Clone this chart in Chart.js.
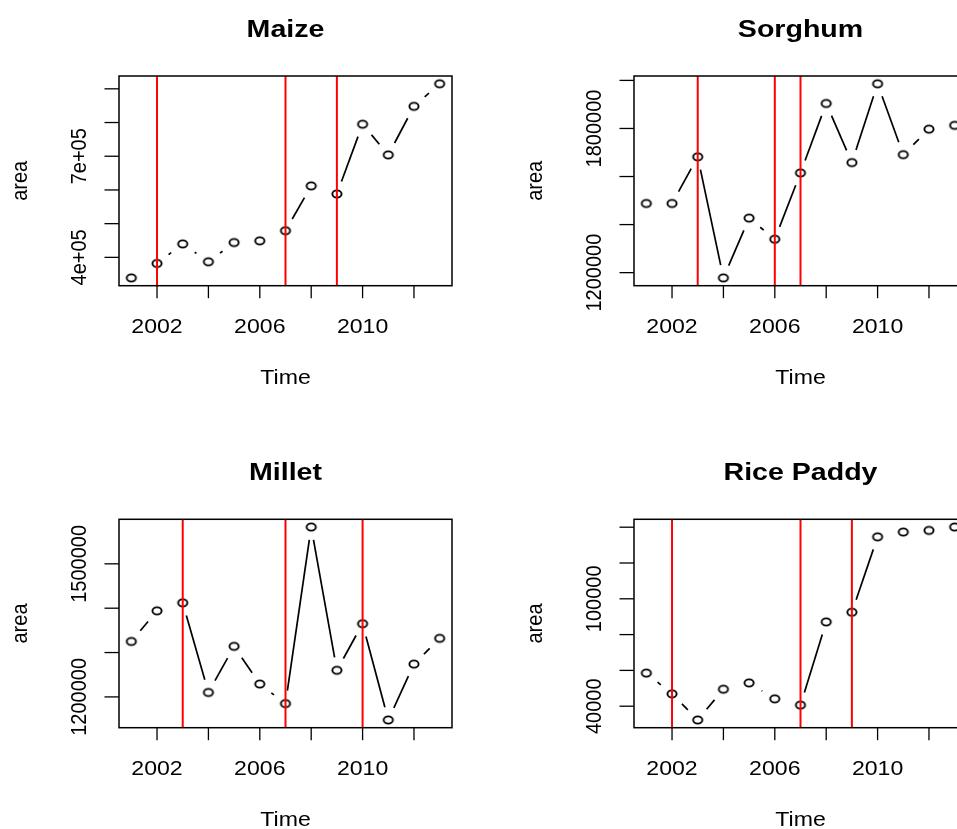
<!DOCTYPE html>
<html>
<head>
<meta charset="utf-8">
<script src="https://cdn.jsdelivr.net/npm/chart.js@4/dist/chart.umd.min.js"></script>
<style>
  body { margin: 0; background: #fff; overflow: hidden; }
  #page { position: relative; width: 957px; height: 829px; overflow: hidden; background: #fff; }
  canvas { position: absolute; }
</style>
</head>
<body>
<div id="page">
  <canvas id="maize" width="480" height="415" style="left:0;top:0"></canvas>
  <canvas id="sorghum" width="520" height="415" style="left:480px;top:0"></canvas>
  <canvas id="millet" width="480" height="414" style="left:0;top:415px"></canvas>
  <canvas id="rice" width="520" height="414" style="left:480px;top:415px"></canvas>
</div>
<script>
// data
const years = [2001, 2002, 2003, 2004, 2005, 2006, 2007, 2008, 2009, 2010, 2011, 2012, 2013];
const maizeArea = [339000, 382000, 440000, 387000, 444000, 449000, 479000, 612000, 588000, 795000, 704000, 848000, 915000];
const sorghumArea = [1488000, 1488000, 1682000, 1178000, 1427000, 1339000, 1615000, 1904000, 1658000, 1986000, 1691000, 1797000, 1813000];
const milletArea = [1325000, 1394000, 1412000, 1210000, 1314000, 1229000, 1185000, 1583000, 1260000, 1365000, 1148000, 1274000, 1332000];
const riceArea = [58500, 46900, 32300, 49500, 53000, 44100, 40600, 87100, 92500, 134600, 137300, 138200, 140100];

// red break lines
const maizeBreaks = [2002, 2007, 2009];
const sorghumBreaks = [2003, 2006, 2007];
const milletBreaks = [2003, 2007, 2010];
const riceBreaks = [2002, 2007, 2009];

// axis ticks
const xTicks = [2002, 2004, 2006, 2008, 2010, 2012];
const xLabelled = [2002, 2006, 2010];
const maizeTicks = [400000, 500000, 600000, 700000, 800000, 900000];
const maizeLabelled = [400000, 700000];
const maizeLabels = ["4e+05", "7e+05"];
const sorghumTicks = [1200000, 1400000, 1600000, 1800000, 2000000];
const sorghumLabelled = [1200000, 1800000];
const sorghumLabels = ["1200000", "1800000"];
const milletTicks = [1200000, 1300000, 1400000, 1500000];
const milletLabelled = [1200000, 1500000];
const milletLabels = ["1200000", "1500000"];
const riceTicks = [40000, 60000, 80000, 100000, 120000, 140000];
const riceLabelled = [40000, 100000];
const riceLabels = ["40000", "100000"];

const SX = 1.2;      // the picture is stretched sideways
const GAP = 13;      // gap round each point for type "b" lines
const FONT = "'Liberation Sans', Arial, sans-serif";

// open circle, a little wider than tall
const ring = document.createElement("canvas");
ring.width = 16; ring.height = 14;
(function () {
  const c = ring.getContext("2d");
  c.strokeStyle = "#000";
  c.lineWidth = 1.9;
  c.beginPath();
  c.ellipse(8, 7, 4.6, 3.6, 0, 0, Math.PI * 2);
  c.stroke();
})();

function hText(ctx, s, x, y, font, sx) {
  ctx.save();
  ctx.translate(x, y);
  ctx.scale(sx, 1);
  ctx.font = font;
  ctx.textAlign = "center";
  ctx.textBaseline = "alphabetic";
  ctx.fillText(s, 0, 0);
  ctx.restore();
}

function vText(ctx, s, x, y, font, sx) {
  ctx.save();
  ctx.translate(x, y);
  ctx.rotate(-Math.PI / 2);
  ctx.scale(1, sx);
  ctx.font = font;
  ctx.textAlign = "center";
  ctx.textBaseline = "alphabetic";
  ctx.fillText(s, 0, 0);
  ctx.restore();
}

function rStyle(cfg) {
  return {
    id: "rstyle",
    afterDatasetsDraw(chart) {
      const ctx = chart.ctx;
      const a = chart.chartArea;
      const xs = chart.scales.x;
      const pts = chart.getDatasetMeta(0).data;

      // lines between points, broken near each point
      ctx.save();
      ctx.strokeStyle = "#000";
      ctx.lineWidth = 1.7;
      for (let i = 0; i < pts.length - 1; i++) {
        const p = pts[i], q = pts[i + 1];
        const len = Math.hypot((q.x - p.x) / SX, q.y - p.y);
        if (len <= 2 * GAP) continue;
        const t0 = GAP / len, t1 = 1 - t0;
        ctx.beginPath();
        ctx.moveTo(p.x + (q.x - p.x) * t0, p.y + (q.y - p.y) * t0);
        ctx.lineTo(p.x + (q.x - p.x) * t1, p.y + (q.y - p.y) * t1);
        ctx.stroke();
      }

      // red vertical lines
      ctx.strokeStyle = "#ff0000";
      ctx.lineWidth = 2;
      cfg.breaks.forEach(b => {
        const x = xs.getPixelForValue(b);
        ctx.beginPath();
        ctx.moveTo(x, a.top);
        ctx.lineTo(x, a.bottom);
        ctx.stroke();
      });
      ctx.restore();
    },
    afterDraw(chart) {
      const ctx = chart.ctx;
      const a = chart.chartArea;
      const xs = chart.scales.x, ys = chart.scales.y;
      const cx = (a.left + a.right) / 2, cy = (a.top + a.bottom) / 2;
      ctx.save();
      ctx.fillStyle = "#000";
      ctx.strokeStyle = "#000";

      // box
      ctx.lineWidth = 1.5;
      ctx.strokeRect(a.left, a.top, a.right - a.left, a.bottom - a.top);

      // x ticks
      ctx.lineWidth = 1.3;
      xTicks.forEach(v => {
        const x = xs.getPixelForValue(v);
        ctx.beginPath();
        ctx.moveTo(x, a.bottom);
        ctx.lineTo(x, a.bottom + 12.5);
        ctx.stroke();
      });
      xLabelled.forEach(v => {
        hText(ctx, String(v), xs.getPixelForValue(v), a.bottom + 47, "21px " + FONT, 1.1);
      });

      // y ticks
      cfg.yTicks.forEach(v => {
        const y = ys.getPixelForValue(v);
        ctx.beginPath();
        ctx.moveTo(a.left - 14.5, y);
        ctx.lineTo(a.left, y);
        ctx.stroke();
      });
      cfg.yLabelled.forEach((v, i) => {
        vText(ctx, cfg.yLabels[i], a.left - 33, ys.getPixelForValue(v), "20px " + FONT, 1.1);
      });

      // titles
      hText(ctx, cfg.title, cx, a.top - 39.5, "bold 24px " + FONT, 1.19);
      hText(ctx, "Time", cx, a.bottom + 98, "21px " + FONT, 1.1);
      vText(ctx, "area", a.left - 92, cy, "20px " + FONT, 1.1);
      ctx.restore();
    }
  };
}

function rPanel(id, title, values, breaks, yTicks, yLabelled, yLabels, pad) {
  const lo = Math.min(...values), hi = Math.max(...values);
  const ext = (hi - lo) * 0.04;
  const xext = (years[years.length - 1] - years[0]) * 0.04;
  new Chart(document.getElementById(id), {
    type: "scatter",
    data: {
      datasets: [{
        data: years.map((x, i) => ({ x: x, y: values[i] })),
        pointStyle: ring,
        pointRadius: 5,
        borderColor: "#000",
        backgroundColor: "rgba(0,0,0,0)",
        showLine: false
      }]
    },
    options: {
      responsive: false,
      animation: false,
      devicePixelRatio: 1,
      layout: { padding: pad },
      plugins: { legend: { display: false }, tooltip: { enabled: false } },
      scales: {
        x: { type: "linear", display: false, min: years[0] - xext, max: years[years.length - 1] + xext },
        y: { type: "linear", display: false, min: lo - ext, max: hi + ext }
      }
    },
    plugins: [rStyle({ title, breaks, yTicks, yLabelled, yLabels })]
  });
}

const topPad = { left: 119, right: 28, top: 76, bottom: 129.3 };
const topPadR = { left: 154, right: 33, top: 76, bottom: 129.3 };
const botPad = { left: 119, right: 28, top: 104.3, bottom: 101.3 };
const botPadR = { left: 154, right: 33, top: 104.3, bottom: 101.3 };

rPanel("maize", "Maize", maizeArea, maizeBreaks, maizeTicks, maizeLabelled, maizeLabels, topPad);
rPanel("sorghum", "Sorghum", sorghumArea, sorghumBreaks, sorghumTicks, sorghumLabelled, sorghumLabels, topPadR);
rPanel("millet", "Millet", milletArea, milletBreaks, milletTicks, milletLabelled, milletLabels, botPad);
rPanel("rice", "Rice Paddy", riceArea, riceBreaks, riceTicks, riceLabelled, riceLabels, botPadR);
</script>
</body>
</html>
